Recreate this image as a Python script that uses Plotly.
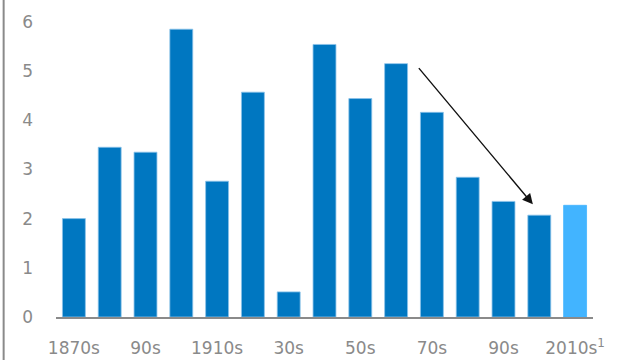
import plotly.graph_objects as go

# Decades and their values
decades = ["1870s", "1880s", "1890s", "1900s", "1910s", "1920s", "1930s", "1940s",
           "1950s", "1960s", "1970s", "1980s", "1990s", "2000s", "2010s"]
values = [2.0, 3.45, 3.35, 5.85, 2.76, 4.57, 0.51, 5.54, 4.44, 5.15, 4.16, 2.84, 2.35, 2.07, 2.27]

# Labels shown on every other decade
label_decades = ["1870s", "1890s", "1910s", "1930s", "1950s", "1970s", "1990s", "2010s"]
label_texts = ["1870s", "90s", "1910s", "30s", "50s", "70s", "90s", "2010s<sup>1</sup>"]

y_ticks = [0, 1, 2, 3, 4, 5, 6]

# Trend arrow from the 1960s peak down to the 2000s
arrow_from = (9.6, 5.09)
arrow_to = (12.82, 2.29)

dark_blue = "#0077C1"
light_blue = "#42B4FF"
colors = [dark_blue] * (len(decades) - 1) + [light_blue]
edges = ["#8CC3EA"] * (len(decades) - 1) + [light_blue]

gray = "#8a8a8a"
font_family = "DejaVu Sans"

fig = go.Figure(go.Bar(
    x=list(range(len(decades))),
    y=values,
    marker=dict(color=colors, line=dict(color=edges, width=0.8)),
    width=0.64,
    hoverinfo="skip",
))

fig.add_annotation(
    x=arrow_to[0], y=arrow_to[1], ax=arrow_from[0], ay=arrow_from[1],
    xref="x", yref="y", axref="x", ayref="y",
    text="", showarrow=True, arrowhead=2, arrowsize=1.5, arrowwidth=1.4,
    arrowcolor="#111111", standoff=0, startstandoff=0,
)

# Left frame line spanning the full height
fig.add_shape(
    type="line", xref="paper", yref="paper",
    x0=-0.0975, x1=-0.0975, y0=-0.2, y1=1.1,
    line=dict(color=gray, width=2),
)

fig.update_layout(
    width=618, height=360,
    margin=dict(l=56, r=25, t=10, b=43),
    plot_bgcolor="white", paper_bgcolor="white",
    showlegend=False,
    font=dict(family=font_family, size=17, color=gray),
    xaxis=dict(
        range=[-0.5, len(decades) - 0.5],
        tickmode="array",
        tickvals=[decades.index(d) for d in label_decades],
        ticktext=label_texts,
        showline=True, linecolor=gray, linewidth=1.5,
        showgrid=False, zeroline=False, ticks="",
        ticklabelstandoff=15,
        automargin=False,
        tickfont=dict(family=font_family, size=17, color=gray),
    ),
    yaxis=dict(
        range=[0, 6.24],
        tickvals=y_ticks,
        showline=False, showgrid=False, zeroline=False, ticks="",
        ticklabelstandoff=22,
        automargin=False,
        tickfont=dict(family=font_family, size=17, color=gray),
    ),
)

fig.write_html("out.html")
